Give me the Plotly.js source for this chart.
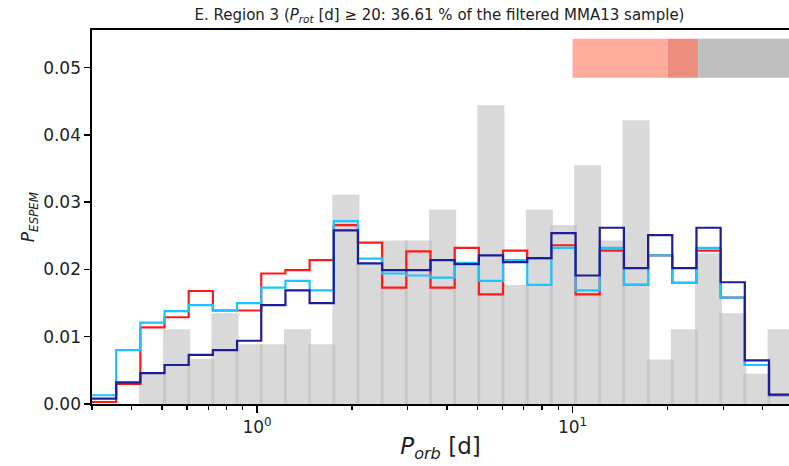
<!DOCTYPE html>
<html>
<head>
<meta charset="utf-8">
<script src="https://cdn.plot.ly/plotly-3.0.1.min.js"></script>
<style>html,body{margin:0;padding:0;background:#fff;}#chart{width:789px;height:466px;}</style>
</head>
<body>
<div id="chart"></div>
<script>
// ---- data ----
const binLow = 0.3;          // first bin edge [d]
const binHigh = 50;          // last bin edge [d]
const nBins = 29;            // logarithmic bins

const grayHist = [0, 0, 0.0045, 0.0111, 0.0067, 0.0135, 0.0089, 0.0089, 0.0111, 0.0089,
  0.0311, 0.0209, 0.0243, 0.0243, 0.0289, 0.0206, 0.0444, 0.0177, 0.0289, 0.0266,
  0.0355, 0.0243, 0.0422, 0.0066, 0.0111, 0.0224, 0.0135, 0.0045, 0.0111];

const redStep = [0.0003, 0.0030, 0.0114, 0.0129, 0.0168, 0.0139, 0.0139, 0.0194, 0.0199, 0.0214,
  0.0266, 0.0240, 0.0173, 0.0227, 0.0173, 0.0232, 0.0163, 0.0228, 0.0217, 0.0236,
  0.0163, 0.0228, 0.0177, 0.0221, 0.0180, 0.0228, 0.0158, 0.0058, 0.0013];

const cyanStep = [0.0013, 0.0080, 0.0121, 0.0138, 0.0147, 0.0139, 0.0150, 0.0173, 0.0183, 0.0169,
  0.0272, 0.0216, 0.0194, 0.0191, 0.0188, 0.0210, 0.0183, 0.0214, 0.0177, 0.0232,
  0.0169, 0.0232, 0.0177, 0.0221, 0.0180, 0.0232, 0.0158, 0.0058, 0.0013];

const blueStep = [0.0008, 0.0032, 0.0046, 0.0058, 0.0073, 0.0080, 0.0094, 0.0147, 0.0169, 0.0150,
  0.0258, 0.0209, 0.0199, 0.0199, 0.0214, 0.0208, 0.0221, 0.0211, 0.0217, 0.0254,
  0.0191, 0.0262, 0.0202, 0.0251, 0.0202, 0.0262, 0.0181, 0.0065, 0.0014];

// period bands shown at the top right [d]
const bandLo = [10, 20, 25];
const bandHi = [20, 25, 50];
const bandColors = ['#ffab9b', '#ec8d7e', '#bfbfbf'];
const bandY = [0.0485, 0.0543];

const xView = [0.3, 48.5];
const yView = [0, 0.0556];
const yTicks = [0, 0.01, 0.02, 0.03, 0.04, 0.05];
const majorTicks = [1, 10];
const majorTickText = ['10<sup>0</sup>', '10<sup>1</sup>'];
const minorTicks = [0.3, 0.4, 0.5, 0.6, 0.7, 0.8, 0.9, 2, 3, 4, 5, 6, 7, 8, 9, 20, 30, 40];

// ---- build ----
const lg = Math.log10;
const step = (lg(binHigh) - lg(binLow)) / nBins;
const edges = [];
for (let i = 0; i <= nBins; i++) edges.push(lg(binLow) + i * step);
const centers = edges.slice(0, -1).map(e => e + step / 2);

function stepTrace(vals, color) {
  return {
    type: 'scatter', mode: 'lines',
    x: edges, y: vals.concat([vals[vals.length - 1]]),
    line: {shape: 'hv', color: color, width: 2.2},
    hoverinfo: 'skip', showlegend: false
  };
}

const traces = [
  {
    type: 'bar', x: centers, y: grayHist, width: step * 1.12,
    marker: {color: 'rgba(186,186,186,0.55)', line: {width: 0}},
    hoverinfo: 'skip', showlegend: false
  },
  stepTrace(redStep, '#ff1a1a'),
  stepTrace(cyanStep, '#1cc4ff'),
  stepTrace(blueStep, '#1d1d9a')
];

const shapes = bandLo.map((lo, i) => ({
  type: 'rect', xref: 'x', yref: 'y',
  x0: lg(lo), x1: lg(bandHi[i]), y0: bandY[0], y1: bandY[1],
  fillcolor: bandColors[i], line: {width: 0}, layer: 'above'
}));

const layout = {
  width: 789, height: 466,
  margin: {l: 92, r: 0, t: 30, b: 62},
  paper_bgcolor: '#fff', plot_bgcolor: '#fff',
  font: {family: 'DejaVu Sans', color: '#000'},
  barmode: 'overlay',
  title: {
    text: 'E. Region 3 (<i>P</i><sub><i>rot</i></sub> [d] ≥ 20: 36.61 % of the filtered MMA13 sample)',
    font: {size: 15, color: '#222'},
    x: 0.557, xanchor: 'center', y: 0.969, yanchor: 'middle', yref: 'container'
  },
  xaxis: {
    type: 'linear', range: [lg(xView[0]), lg(xView[1])],
    tickmode: 'array', tickvals: majorTicks.map(lg), ticktext: majorTickText,
    ticks: 'outside', ticklen: 7, tickwidth: 1.5, tickcolor: '#000',
    minor: {tickmode: 'array', tickvals: minorTicks.map(lg), ticks: 'outside', ticklen: 4, tickwidth: 1.2, tickcolor: '#000'},
    showline: true, linecolor: '#000', linewidth: 1.6, mirror: true,
    showgrid: false, zeroline: false,
    tickfont: {size: 17, color: '#222'},
    title: {text: '<i>P</i><sub><i>orb</i></sub> [d]', font: {size: 23, color: '#222'}, standoff: 2}
  },
  yaxis: {
    range: yView, tickmode: 'array', tickvals: yTicks, tickformat: '.2f',
    ticks: 'outside', ticklen: 6, tickwidth: 1.5, tickcolor: '#000',
    showline: true, linecolor: '#000', linewidth: 1.6, mirror: false,
    showgrid: false, zeroline: false,
    tickfont: {size: 17, color: '#222'},
    title: {text: '<i>P</i><sub><i>ESPEM</i></sub>', font: {size: 17, color: '#222'}, standoff: 4}
  },
  shapes: shapes
};

Plotly.newPlot('chart', traces, layout, {displayModeBar: false, staticPlot: true});
</script>
</body>
</html>
